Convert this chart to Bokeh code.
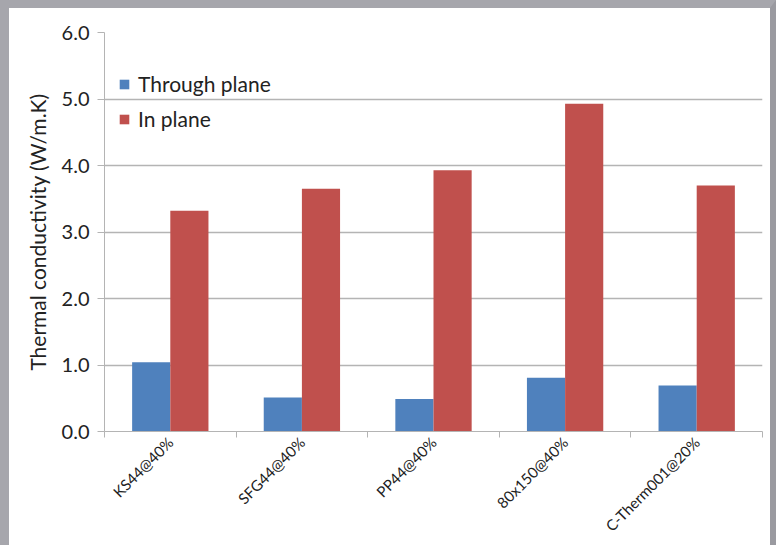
import numpy as np
from bokeh.plotting import figure
from bokeh.models import (Range1d, FixedTicker, PrintfTickFormatter, ColumnDataSource,
                          InlineStyleSheet)
from bokeh.embed import file_html
from bokeh.resources import INLINE

categories = ["KS44@40%", "SFG44@40%", "PP44@40%", "80x150@40%", "C-Therm001@20%"]
through_plane = [1.04, 0.51, 0.49, 0.81, 0.69]
in_plane = [3.32, 3.65, 3.93, 4.93, 3.70]
y_ticks = [0, 1, 2, 3, 4, 5, 6]

FONT = "Lato"
BLUE = "#4f81bd"
RED = "#c0504d"
GRID = "#b4b4b4"

centers = np.arange(len(categories)) + 0.5
src = ColumnDataSource(dict(
    xb=centers - 0.145, xr=centers + 0.145,
    tp=through_plane, ip=in_plane))

p = figure(width=776, height=545, output_backend="svg", toolbar_location=None,
           x_range=Range1d(0, len(categories)), y_range=Range1d(0, 6),
           min_border_left=104, min_border_right=14, min_border_top=32,
           min_border_bottom=114)
p.border_fill_color = "white"
p.background_fill_color = "white"
p.outline_line_color = None

# grey slide frame drawn over the canvas edges (left, top, right)
p.stylesheets = [InlineStyleSheet(css="""
:host::after {
  content: "";
  position: absolute;
  left: 0; top: 0; width: 776px; height: 545px;
  box-sizing: border-box;
  border-left: 9px solid #a6a6ac;
  border-top: 8px solid #a6a6ac;
  border-right: 6px solid #9a9aa0;
  pointer-events: none;
  z-index: 10;
}
""")]

p.vbar(x="xb", top="tp", width=0.29, source=src, fill_color=BLUE, line_color=None,
       legend_label="Through plane")
p.vbar(x="xr", top="ip", width=0.29, source=src, fill_color=RED, line_color=None,
       legend_label="In plane")

# y axis
p.yaxis.ticker = FixedTicker(ticks=y_ticks)
p.yaxis.formatter = PrintfTickFormatter(format="%.1f")
p.yaxis.axis_label = "Thermal conductivity (W/m.K)"
p.yaxis.axis_label_text_font = FONT
p.yaxis.axis_label_text_font_style = "normal"
p.yaxis.axis_label_text_font_size = "21px"
p.yaxis.axis_label_text_color = "#222222"
p.yaxis.axis_label_standoff = 9
p.yaxis.major_label_text_font = FONT
p.yaxis.major_label_text_font_size = "20px"
p.yaxis.major_label_text_color = "#222222"
p.yaxis.major_label_standoff = 8
p.yaxis.axis_line_color = GRID
p.yaxis.major_tick_line_color = GRID
p.yaxis.major_tick_out = 7
p.yaxis.major_tick_in = 0
p.yaxis.minor_tick_line_color = None

# x axis
p.xaxis.ticker = FixedTicker(ticks=list(centers), minor_ticks=list(range(len(categories) + 1)))
p.xaxis.major_label_overrides = {float(c): lab for c, lab in zip(centers, categories)}
p.xaxis.major_label_orientation = np.pi / 4
p.xaxis.major_label_text_font = FONT
p.xaxis.major_label_text_font_size = "15px"
p.xaxis.major_label_text_color = "#222222"
p.xaxis.major_label_standoff = 2
p.xaxis.major_tick_line_color = None
p.xaxis.minor_tick_line_color = GRID
p.xaxis.minor_tick_out = 6
p.xaxis.minor_tick_in = 0
p.xaxis.axis_line_color = GRID

p.xgrid.grid_line_color = None
p.ygrid.grid_line_color = GRID
p.ygrid.grid_line_width = 1.5

lg = p.legend[0]
lg.location = (14, 300)
lg.orientation = "vertical"
lg.background_fill_alpha = 0
lg.border_line_color = None
lg.padding = 0
lg.margin = 0
lg.spacing = 10
lg.glyph_width = 12
lg.glyph_height = 12
lg.label_height = 22
lg.label_standoff = 8
lg.label_text_font = FONT
lg.label_text_font_size = "21px"
lg.label_text_color = "#222222"

open("out.html", "w").write(file_html(p, INLINE))
